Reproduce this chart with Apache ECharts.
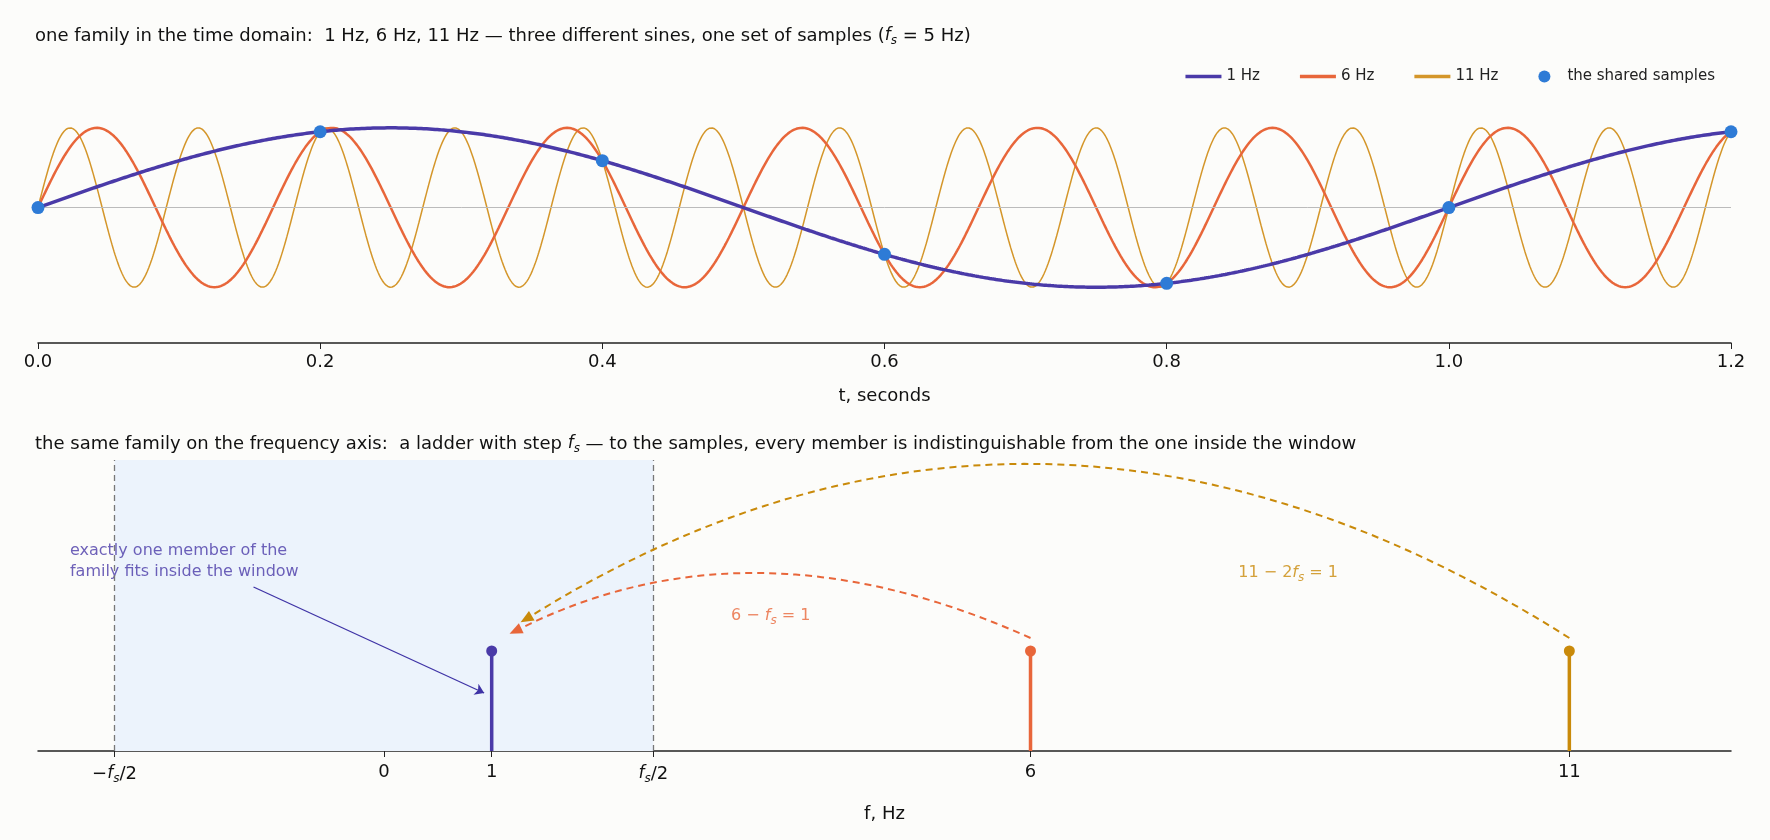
<!DOCTYPE html><html><head><meta charset="utf-8">
<script src="https://cdn.jsdelivr.net/npm/echarts@6/dist/echarts.min.js"></script>
<style>html,body{margin:0;background:#fcfcfa}#c{width:1770px;height:840px}</style></head><body><div id="c"></div>
<script>
const fs = 5;
const freqs = [1, 6, 11];
const names = ['1 Hz', '6 Hz', '11 Hz'];
const colors = ['#4a3aa8', '#e8663a', '#d4962a'];
const widths = [3.5, 2.5, 1.5];
const stemColors = ['#4a3aa8', '#e8663a', '#c98a0a'];
const sampleTimes = [0, 0.2, 0.4, 0.6, 0.8, 1.0, 1.2];
const fTicks = [-2.5, 0, 1, 2.5, 6, 11];
const fTickLabels = ['−{i|f}{s|s}/2', '0', '1', '{i|f}{s|s}/2', '6', '11'];
const stemHeight = 1;
const arcOrange = [[6, 1.13], [3.5, 1.78], [1.22, 1.2]];
const arcGold = [[11, 1.13], [6.1, 2.87], [1.32, 1.32]];
const FF='DejaVu Sans';
function sine(f){const out=[];for(let i=0;i<=2400;i++){const t=i*1.2/2400;out.push([t,Math.sin(2*Math.PI*f*t)]);}return out;}
function bez(p){const [a,m,b]=p;const cy=2*m[1]-(a[1]+b[1])/2, cx=2*m[0]-(a[0]+b[0])/2;const out=[];for(let i=0;i<=60;i++){const u=i/60;out.push([(1-u)*(1-u)*a[0]+2*u*(1-u)*cx+u*u*b[0],(1-u)*(1-u)*a[1]+2*u*(1-u)*cy+u*u*b[1]]);}return out;}
const rich={i:{fontStyle:'italic',fontSize:17,fontFamily:FF,color:'#111'},s:{fontStyle:'italic',fontSize:12,verticalAlign:'bottom',padding:[10,0,0,0],fontFamily:FF,color:'#111'}};
const series=[];
freqs.forEach((f,k)=>series.push({name:names[k],type:'line',xAxisIndex:0,yAxisIndex:0,data:sine(f),showSymbol:false,lineStyle:{color:colors[k],width:widths[k]},itemStyle:{color:colors[k]},z:5-k,silent:true,
 markLine:k==0?{silent:true,symbol:'none',label:{show:false},lineStyle:{color:'#bbb',width:1,type:'solid'},data:[{yAxis:0}]}:undefined}));
series.push({name:'the shared samples',type:'scatter',xAxisIndex:0,yAxisIndex:0,data:sampleTimes.map(t=>[t,Math.sin(2*Math.PI*t)]),symbolSize:13,itemStyle:{color:'#2e7bd6',opacity:1},z:10});
series.push({type:'line',xAxisIndex:1,yAxisIndex:1,data:[],markArea:{silent:true,itemStyle:{color:'#ecf3fc'},data:[[{xAxis:-fs/2},{xAxis:fs/2}]]},
 markLine:{silent:true,symbol:'none',label:{show:false},lineStyle:{color:'#777',type:[6,4],width:1.3},data:[{xAxis:-fs/2},{xAxis:fs/2}]}});
freqs.forEach((f,k)=>series.push({type:'line',xAxisIndex:1,yAxisIndex:1,data:[{value:[f,0],symbol:'none'},{value:[f,stemHeight],symbol:'circle'}],symbolSize:11,lineStyle:{color:stemColors[k],width:3.5},itemStyle:{color:stemColors[k]},z:5}));
[[arcOrange,'#e8663a'],[arcGold,'#c98a0a']].forEach(([a,c])=>{
 const pts=bez(a);
 series.push({type:'line',xAxisIndex:1,yAxisIndex:1,data:pts,showSymbol:false,lineStyle:{color:c,width:2,type:[7,5]},z:6,silent:true});
 const p=pts[pts.length-1],q=pts[pts.length-4];
 const ang=Math.atan2((p[1]-q[1])*100,(p[0]-q[0])*107.7)*180/Math.PI-90;
 series.push({type:'scatter',xAxisIndex:1,yAxisIndex:1,data:[p],symbol:'triangle',symbolSize:[11,13],symbolRotate:ang,itemStyle:{color:c,opacity:1},z:7,silent:true});
});
series.push({type:'lines',coordinateSystem:'cartesian2d',xAxisIndex:1,yAxisIndex:1,symbol:['none','arrow'],symbolSize:9,lineStyle:{color:'#3f33a6',width:1.3,opacity:1},data:[{coords:[[-1.21,1.64],[0.93,0.58]]}]});
series.push({type:'scatter',xAxisIndex:1,yAxisIndex:1,symbolSize:0,silent:true,data:[
 {value:[-2.96,1.9],label:{show:true,position:'right',color:'#4a3aa8',fontFamily:FF,fontSize:16,lineHeight:21,formatter:'exactly one member of the\nfamily fits inside the window'}},
 {value:[3.59,1.35],label:{show:true,position:'inside',fontFamily:FF,fontSize:16,color:'#e8663a',formatter:'6 − {i|f}{s|s} = 1',rich:{i:{...rich.i,color:'#e8663a',fontSize:16},s:{...rich.s,color:'#e8663a'}}}},
 {value:[8.39,1.78],label:{show:true,position:'inside',fontFamily:FF,fontSize:16,color:'#c98a0a',formatter:'11 − 2{i|f}{s|s} = 1',rich:{i:{...rich.i,color:'#c98a0a',fontSize:16},s:{...rich.s,color:'#c98a0a'}}}}]});
const chart=echarts.init(document.getElementById('c'));
const ax={fontSize:18,color:'#111',fontFamily:FF};
chart.setOption({backgroundColor:'#fcfcfa',animation:false,textStyle:{fontFamily:FF},
 title:[{text:'one family in the time domain:  1 Hz, 6 Hz, 11 Hz — three different sines, one set of samples ({i|f}{s|s} = 5 Hz)',left:30,top:20,textStyle:{fontSize:18,fontFamily:FF,fontWeight:'normal',color:'#111',rich}},
  {text:'the same family on the frequency axis:  a ladder with step {i|f}{s|s} — to the samples, every member is indistinguishable from the one inside the window',left:30,top:428,textStyle:{fontSize:18,fontFamily:FF,fontWeight:'normal',color:'#111',rich}}],
 legend:{right:50,top:64,itemGap:40,itemWidth:36,itemHeight:12,textStyle:{fontSize:15,color:'#222',fontFamily:FF},data:[{name:'1 Hz',icon:'path://M0,0H10V1H0Z'},{name:'6 Hz',icon:'path://M0,0H10V1H0Z'},{name:'11 Hz',icon:'path://M0,0H10V1H0Z'},{name:'the shared samples',icon:'circle'}]},
 grid:[{left:38,right:39,top:88,height:255},{left:38,right:39,top:460,height:291}],
 xAxis:[{type:'value',gridIndex:0,min:0,max:1.2,interval:0.2,name:'t, seconds',nameLocation:'middle',nameGap:44,nameTextStyle:ax,axisLine:{onZero:false,lineStyle:{color:'#222',width:1.5}},axisTick:{length:6,lineStyle:{color:'#222'}},axisLabel:{...ax,margin:10,formatter:v=>v.toFixed(1)},splitLine:{show:false}},
  {type:'value',gridIndex:1,min:-3.21,max:12.5,name:'f, Hz',nameLocation:'middle',nameGap:54,nameTextStyle:ax,axisLine:{onZero:false,lineStyle:{color:'#222',width:1.5}},axisTick:{length:6,customValues:fTicks,lineStyle:{color:'#222'}},axisLabel:{...ax,margin:12,customValues:fTicks,formatter:v=>fTickLabels[fTicks.indexOf(v)],rich},splitLine:{show:false}}],
 yAxis:[{type:'value',gridIndex:0,min:-1.7,max:1.5,show:false},{type:'value',gridIndex:1,min:0,max:2.91,show:false}],
 series});
</script></body></html>
